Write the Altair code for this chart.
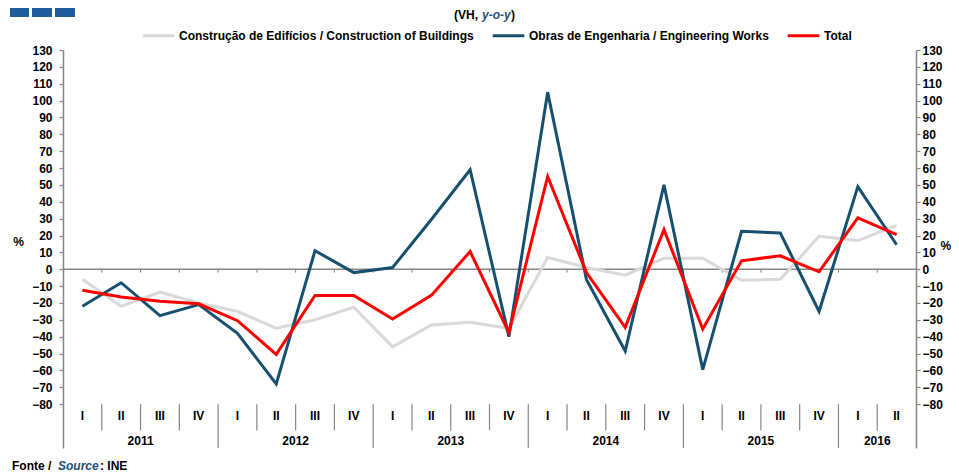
import altair as alt
import pandas as pd

# ---------------- data ----------------
quarter_labels = ["I", "II", "III", "IV"] * 5 + ["I", "II"]
year_labels = ["2011", "2012", "2013", "2014", "2015", "2016"]
quarters_per_year = [4, 4, 4, 4, 4, 2]

series_names = [
    "Construção de Edifícios / Construction of Buildings",
    "Obras de Engenharia / Engineering Works",
    "Total",
]
buildings = [-6, -22, -13.5, -20, -25, -35, -30, -22.5, -46, -33, -31.5, -35,
             7, 1, -3.5, 6.5, 6.5, -6.5, -6, 19.5, 17, 26]
engineering = [-22, -8, -27.5, -21, -38, -68, 11, -2, 1, 29.5, 59, -40,
               105, -6, -48.5, 50, -59.5, 22.5, 21.5, -25, 49, 14.5]
total = [-12.5, -16.5, -19, -20.5, -30.5, -50.5, -15.5, -15.5, -29.5, -15.5, 10.5, -37.5,
         55, -2, -34.5, 23.5, -35.5, 5, 8, -1.5, 30.5, 20.5]
series_values = [buildings, engineering, total]
series_colors = ["#d9d9d9", "#17506e", "#ff0000"]

y_ticks = list(range(-80, 131, 10))

FONT = "Liberation Sans"
N = len(quarter_labels)

rows = []
for name, vals in zip(series_names, series_values):
    for i, v in enumerate(vals):
        rows.append({"pos": i + 0.5, "value": v, "series": name})
df = pd.DataFrame(rows)

qdf = pd.DataFrame({"pos": [i + 0.5 for i in range(N)], "label": quarter_labels})
centers, start = [], 0
for c in quarters_per_year:
    centers.append(start + c / 2)
    start += c
ydf = pd.DataFrame({"pos": centers, "label": year_labels})

boundaries = list(range(1, N))
year_bounds = []
s = 0
for c in quarters_per_year[:-1]:
    s += c
    year_bounds.append(s)
sep_df = pd.DataFrame({
    "pos": boundaries,
    "top": [-80] * len(boundaries),
    "bottom": [-106 if b in year_bounds else -95.6 for b in boundaries],
})
zt_df = pd.DataFrame({"pos": boundaries, "top": [0] * len(boundaries), "bottom": [-2] * len(boundaries)})
zero_df = pd.DataFrame({"v": [0]})
one = pd.DataFrame({"a": [0]})

# ---------------- scales ----------------
xs = alt.Scale(domain=[0, N], nice=False, zero=False)
ys = alt.Scale(domain=[-106, 130], nice=False, zero=False)
X = alt.X("pos:Q", scale=xs, axis=None)

AXIS_GRAY = "#858585"

zero_line = alt.Chart(zero_df).mark_rule(color=AXIS_GRAY, strokeWidth=1.5).encode(
    y=alt.Y("v:Q", scale=ys, axis=None)
)
zero_ticks = alt.Chart(zt_df).mark_rule(color=AXIS_GRAY, strokeWidth=1).encode(
    x=X, y=alt.Y("top:Q", scale=ys, axis=None), y2="bottom:Q"
)
separators = alt.Chart(sep_df).mark_rule(color=AXIS_GRAY, strokeWidth=1.2).encode(
    x=X, y=alt.Y("top:Q", scale=ys, axis=None), y2="bottom:Q"
)

lines = alt.Chart(df).mark_line(strokeWidth=3).encode(
    x=X,
    y=alt.Y("value:Q", scale=ys, axis=None),
    color=alt.Color("series:N", scale=alt.Scale(domain=series_names, range=series_colors),
                    legend=alt.Legend(
                        title=None, orient="none", legendX=78, legendY=-32,
                        direction="horizontal", symbolType="stroke",
                        symbolStrokeWidth=3, symbolSize=1000, labelOffset=3,
                        columnPadding=12, padding=0,
                        labelFont=FONT, labelFontWeight="bold", labelFontSize=12,
                        labelColor="black", labelLimit=400,
                    )),
)

qlabels = alt.Chart(qdf).mark_text(font=FONT, fontWeight="bold", fontSize=12,
                                   color="black", baseline="middle").encode(
    x=X, y=alt.datum(-87, scale=ys), text="label:N"
)
ylabels = alt.Chart(ydf).mark_text(font=FONT, fontWeight="bold", fontSize=12,
                                   color="black", baseline="middle").encode(
    x=X, y=alt.datum(-102, scale=ys), text="label:N"
)

def txt(text, x, y, align="left", color="black", style="normal", baseline="middle"):
    return alt.Chart(one).mark_text(
        text=text, font=FONT, fontWeight="bold", fontSize=12, color=color,
        fontStyle=style, align=align, baseline=baseline,
    ).encode(x=alt.value(x), y=alt.value(y))

BLUE_T = "#1f4e79"
title_parts = [
    txt("(VH,", 415, -35, align="right"),
    txt("y-o-y", 419, -35, color=BLUE_T, style="italic"),
    txt(")", 448, -35),
]
footer_parts = [
    txt("Fonte /", -51, 420, baseline="alphabetic"),
    txt("Source", -5, 420, color=BLUE_T, style="italic", baseline="alphabetic"),
    txt(": INE", 37, 420, baseline="alphabetic"),
]

def square(x0, x1):
    return alt.Chart(one).mark_rect(color="#1f5d9e").encode(
        x=alt.value(x0), x2=alt.value(x1), y=alt.value(-46), y2=alt.value(-33)
    )

squares = [square(-53, -34), square(-31, -11), square(-8, 12)]

inner = alt.layer(zero_line, zero_ticks, separators, lines, qlabels, ylabels,
                  *title_parts, *footer_parts, *squares)

left = alt.Chart(df).mark_line(opacity=0).encode(
    x=X,
    y=alt.Y("value:Q", scale=ys, axis=alt.Axis(
        orient="left", values=y_ticks, tickSize=4, labelPadding=7,
        title="%", titleAngle=0, titleX=-45, titleY=191,
        titleAlign="center", titleBaseline="middle",
    )),
)

right = alt.Chart(df).mark_line(opacity=0).encode(
    x=X,
    y=alt.Y("value:Q", scale=ys, axis=alt.Axis(
        orient="right", values=y_ticks, tickSize=4, labelPadding=2,
        title="%", titleAngle=0, titleX=24, titleY=195,
        titleAlign="left", titleBaseline="middle",
    )),
)

chart = alt.layer(left, inner, right).resolve_scale(y="independent").properties(
    width=853, height=398,
    autosize=alt.AutoSizeParams(type="none"),
    padding={"left": 55, "top": 42, "right": 35, "bottom": 27},
    background="white",
).configure_view(stroke=None).configure_axis(
    grid=False, domainColor=AXIS_GRAY, domainWidth=1.5, tickColor=AXIS_GRAY,
    tickWidth=1.2, labelFont=FONT, labelFontWeight="bold", labelFontSize=12,
    labelColor="black", titleFont=FONT, titleFontWeight="bold", titleFontSize=12,
    titleColor="black",
)

chart.save("out.html", embed_options={"renderer": "svg", "actions": False})
